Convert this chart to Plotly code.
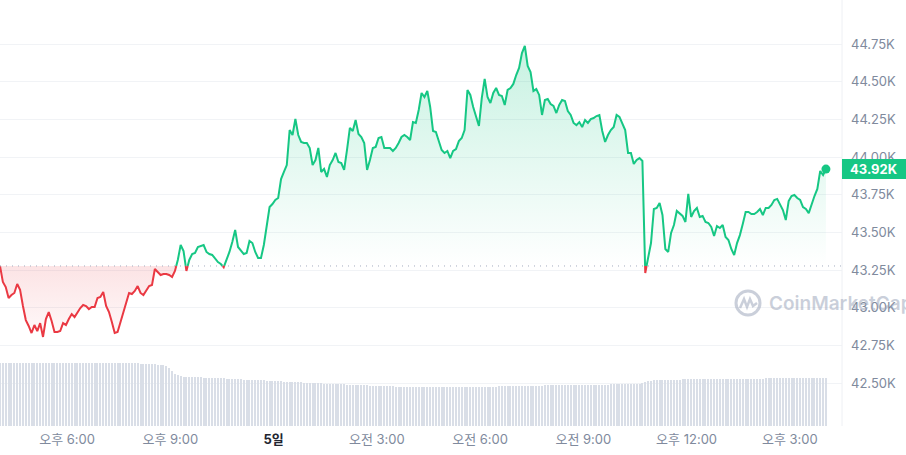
import plotly.graph_objects as go
from datetime import datetime, timedelta

# ---------------- data ----------------
start_time = datetime(2023, 12, 4, 16, 3)
step_minutes = 5

prices = [
    43277, 43171, 43137, 43064, 43084, 43098, 43157, 43118, 43011, 42918,
    42879, 42832, 42885, 42845, 42898, 42806, 42925, 42971, 42912, 42839,
    42839, 42845, 42898, 42885, 42925, 42958, 42938, 42971, 42998, 43018,
    43011, 42991, 43005, 43005, 43064, 43071, 43104, 43011, 42971, 42905,
    42832, 42839, 42905, 42965, 43031, 43098, 43091, 43111, 43144, 43098,
    43084, 43111, 43144, 43151, 43257, 43237, 43217, 43224, 43224, 43217,
    43204, 43244, 43317, 43416, 43376, 43244, 43317, 43356, 43363, 43403,
    43410, 43416, 43370, 43356, 43350, 43323, 43303, 43290, 43268, 43317,
    43370, 43436, 43516, 43403, 43376, 43356, 43363, 43443, 43429, 43370,
    43330, 43330, 43416, 43555, 43668, 43688, 43715, 43728, 43854, 43901,
    43947, 44179, 44146, 44252, 44146, 44100, 44093, 44093, 44060, 43947,
    43980, 44060, 43901, 43921, 43868, 43947, 43980, 44027, 43967, 43960,
    43914, 44047, 44193, 44173, 44246, 44153, 44133, 44093, 43914, 43980,
    44060, 44067, 44126, 44133, 44060, 44060, 44060, 44040, 44060, 44093,
    44133, 44146, 44133, 44113, 44232, 44226, 44312, 44425, 44398, 44438,
    44332, 44173, 44166, 44106, 44047, 44027, 44040, 43993, 44040, 44053,
    44106, 44126, 44179, 44445, 44412, 44332, 44266, 44206, 44392, 44518,
    44398, 44358, 44425, 44458, 44412, 44405, 44345, 44445, 44458, 44485,
    44544, 44591, 44690, 44737, 44604, 44564, 44438, 44451, 44412, 44279,
    44378, 44385, 44352, 44339, 44292, 44345, 44378, 44372, 44305, 44279,
    44226, 44212, 44232, 44199, 44246, 44226, 44252, 44259, 44272, 44279,
    44173, 44100, 44146, 44179, 44199, 44279, 44266, 44219, 44179, 44027,
    44027, 43954, 43980, 43993, 43974, 43230, 43337, 43429, 43655, 43662,
    43695, 43615, 43390, 43370, 43496, 43549, 43642, 43628, 43609, 43569,
    43755, 43602, 43642, 43662, 43602, 43609, 43569, 43562, 43536, 43476,
    43542, 43529, 43549, 43469, 43449, 43390, 43350, 43429, 43482, 43555,
    43635, 43635, 43622, 43622, 43635, 43655, 43615, 43662, 43662, 43682,
    43715, 43722, 43688, 43648, 43582, 43708, 43741, 43748, 43728, 43715,
    43668, 43655, 43628, 43688, 43741, 43788, 43907, 43881, 43920,
]

volumes_b = [
    25.3, 25.3, 25.2, 25.3, 25.2, 25.2, 25.3, 25.3, 25.2, 25.2,
    25.3, 25.2, 25.2, 25.3, 25.3, 25.2, 25.2, 25.2, 25.3, 25.2,
    25.2, 25.3, 25.2, 25.2, 25.3, 25.2, 25.2, 25.3, 25.2, 25.2,
    25.2, 25.3, 25.2, 25.2, 25.2, 25.3, 25.2, 25.2, 25.1, 25.2,
    25.2, 25.1, 25.2, 25.2, 25.1, 25.1, 25.2, 25.1, 25.1, 25.0,
    25.0, 25.0, 24.9,
    24.8, 24.7, 24.6, 24.5, 24.3, 24.1,
    23.3, 22.1, 21.0, 20.4,
    20.0, 19.8, 19.7, 19.7, 19.6, 19.6, 19.5, 19.5, 19.4, 19.4,
    19.3, 19.3, 19.2, 19.2, 19.1, 19.1, 19.0, 19.0,
    18.9, 18.8, 18.8, 18.7, 18.6, 18.6, 18.5, 18.5, 18.4, 18.4,
    18.3, 18.3, 18.2, 18.2,
    18.1, 18.0, 18.0, 17.9, 17.8, 17.8, 17.7, 17.6, 17.6, 17.5,
    17.5, 17.4, 17.3, 17.3, 17.2, 17.2, 17.1, 17.1, 17.0, 17.0, 16.9,
    16.9, 16.8, 16.8, 16.7, 16.7, 16.6, 16.6, 16.5, 16.5, 16.4,
    16.4, 16.3, 16.3, 16.2, 16.2, 16.1, 16.1, 16.0, 16.0, 15.9,
    15.9, 15.9, 15.8, 15.8, 15.8, 15.7, 15.7, 15.7, 15.7, 15.6,
    15.6, 15.6, 15.6, 15.6, 15.6, 15.6, 15.6, 15.6, 15.6, 15.6,
    15.6, 15.6, 15.6, 15.6, 15.6, 15.6, 15.6, 15.6, 15.6, 15.7,
    15.7, 15.7, 15.7, 15.7, 15.8, 15.8, 15.8, 15.8, 15.9,
    15.9, 15.9, 16.0, 16.0, 16.0, 16.0, 16.1, 16.1, 16.1, 16.1,
    16.2, 16.2, 16.2, 16.2, 16.2, 16.3, 16.3, 16.3, 16.3, 16.3,
    16.4, 16.4, 16.4, 16.4, 16.4, 16.4, 16.4, 16.5,
    16.5, 16.5, 16.5, 16.5, 16.6, 16.6, 16.6, 16.6, 16.6, 16.6,
    16.7, 16.7, 16.7, 16.7, 16.7, 16.7, 16.8, 16.8, 16.8, 16.8, 16.8,
    17.3, 17.7, 18.0, 18.2, 18.3,
    18.4, 18.4, 18.5, 18.5, 18.5, 18.6, 18.6, 18.6, 18.6, 18.7,
    18.7, 18.7, 18.7, 18.7, 18.7, 18.8, 18.8, 18.8, 18.8, 18.8,
    18.8, 18.8, 18.8, 18.8, 18.9, 18.9, 18.9, 18.9, 18.9, 18.9, 18.9,
    19.0, 19.0, 19.0, 19.0, 19.0, 19.0, 19.0, 19.1, 19.1, 19.1,
    19.1, 19.1, 19.1, 19.1, 19.1, 19.1, 19.1, 19.1, 19.1, 19.2,
    19.2, 19.2, 19.2, 19.2, 19.2, 19.2, 19.2, 19.2, 19.2,
]

tick_times = [
    "2023-12-04 18:00", "2023-12-04 21:00", "2023-12-05 00:00", "2023-12-05 03:00",
    "2023-12-05 06:00", "2023-12-05 09:00", "2023-12-05 12:00", "2023-12-05 15:00",
]
tick_labels = ["오후 6:00", "오후 9:00", "<span style='color:#222531'><b>5일</b></span>",
               "오전 3:00", "오전 6:00", "오전 9:00", "오후 12:00", "오후 3:00"]
price_ticks = [42500, 42750, 43000, 43250, 43500, 43750, 44000, 44250, 44500, 44750]
price_tick_labels = ["42.50K", "42.75K", "43.00K", "43.25K", "43.50K",
                     "43.75K", "44.00K", "44.25K", "44.50K", "44.75K"]

# ---------------- styling ----------------
GREEN = "#16c784"
RED = "#ea3943"
GRAY = "#808a9d"
FONT = "Inter, 'Noto Sans CJK KR', sans-serif"
W, H = 906, 455
ML, MR, MT, MB = 0, 64, 0, 29
PW, PH = W - ML - MR, H - MT - MB

n = min(len(prices), len(volumes_b))
prices = prices[:n]
volumes_b = volumes_b[:n]
times = [start_time + timedelta(minutes=step_minutes * i) for i in range(n)]
base_price = prices[0]
x_end = start_time + timedelta(minutes=1468)

# split line into parts above / below the opening price
aug = []
for i, (t, p) in enumerate(zip(times, prices)):
    if i:
        a = prices[i - 1] - base_price
        b = p - base_price
        if a * b < 0:
            f = a / (a - b)
            aug.append((times[i - 1] + (t - times[i - 1]) * f, base_price, "x"))
    kind = "x" if p == base_price else ("up" if p > base_price else "down")
    aug.append((t, p, kind))

ax = [q[0] for q in aug]
g_line = [q[1] if q[2] != "down" else None for q in aug]
r_line = [q[1] if q[2] != "up" else None for q in aug]
g_fill = [max(q[1], base_price) for q in aug]
r_fill = [min(q[1], base_price) for q in aug]
base_line = [base_price] * len(aug)

fig = go.Figure()

# volume bars
fig.add_trace(go.Bar(
    x=times, y=volumes_b, yaxis="y2",
    width=110000, marker=dict(color="#d9dee7", line=dict(width=0)),
    hoverinfo="skip", showlegend=False,
))

# green fill
fig.add_trace(go.Scatter(x=ax, y=base_line, mode="lines", line=dict(width=0),
                         hoverinfo="skip", showlegend=False))
fig.add_trace(go.Scatter(
    x=ax, y=g_fill, mode="lines", line=dict(width=0), fill="tonexty",
    fillgradient=dict(type="vertical", start=base_price, stop=44750,
                      colorscale=[[0, "rgba(22,199,132,0.0)"], [1, "rgba(22,199,132,0.24)"]]),
    hoverinfo="skip", showlegend=False,
))
# red fill
fig.add_trace(go.Scatter(x=ax, y=base_line, mode="lines", line=dict(width=0),
                         hoverinfo="skip", showlegend=False))
fig.add_trace(go.Scatter(
    x=ax, y=r_fill, mode="lines", line=dict(width=0), fill="tonexty",
    fillgradient=dict(type="vertical", start=min(prices), stop=base_price,
                      colorscale=[[0, "rgba(234,57,67,0.03)"], [1, "rgba(234,57,67,0.14)"]]),
    hoverinfo="skip", showlegend=False,
))

# lines
fig.add_trace(go.Scatter(x=ax, y=g_line, mode="lines", connectgaps=False,
                         line=dict(color=GREEN, width=2), hoverinfo="skip", showlegend=False))
fig.add_trace(go.Scatter(x=ax, y=r_line, mode="lines", connectgaps=False,
                         line=dict(color=RED, width=2), hoverinfo="skip", showlegend=False))
# end marker
last = prices[-1]
fig.add_trace(go.Scatter(x=[times[-1]], y=[last], mode="markers",
                         marker=dict(color=GREEN if last >= base_price else RED, size=9),
                         hoverinfo="skip", showlegend=False))

shapes = []
# dotted opening-price line
shapes.append(dict(type="line", xref="paper", yref="y", x0=0, x1=1, y0=base_price, y1=base_price,
                   line=dict(color="#a3adbf", width=1, dash="1px,5px"), layer="above"))
# right border
shapes.append(dict(type="line", xref="paper", yref="paper", x0=1, x1=1, y0=0, y1=1,
                   line=dict(color="#eef0f4", width=1)))
# price tag
tag_half = 10 * 1000 / 150.7
shapes.append(dict(type="rect", xref="paper", yref="y", x0=1.0, x1=W / PW,
                   y0=last - tag_half, y1=last + tag_half,
                   fillcolor=GREEN, line=dict(width=0), layer="above"))


def px(xp):
    return (xp - ML) / PW


def py(yp):
    return (PH - (yp - MT)) / PH


WM = "rgba(150,160,182,0.5)"
cx, cy, r = 748, 303, 12
shapes.append(dict(type="circle", xref="paper", yref="paper",
                   x0=px(cx - r), x1=px(cx + r), y0=py(cy + r), y1=py(cy - r),
                   line=dict(color=WM, width=3), layer="above"))
pts = [(-8, 5), (-4, -4), (-1, 4), (2, -4), (5, 3), (9, 0)]
path = "M " + " L ".join(f"{px(cx + dx):.5f},{py(cy + dy):.5f}" for dx, dy in pts)
shapes.append(dict(type="path", xref="paper", yref="paper", path=path,
                   line=dict(color=WM, width=2.5), layer="above"))

annotations = [
    dict(xref="paper", yref="y", x=(1.0 + W / PW) / 2, y=last, xanchor="center", yanchor="middle",
         text=f"<b>{last / 1000:.2f}K</b>", showarrow=False,
         font=dict(family=FONT, size=13, color="white")),
    dict(xref="paper", yref="paper", x=px(767), y=py(cy), xanchor="left", yanchor="middle",
         text="CoinMarketCap", showarrow=False,
         font=dict(family=FONT, size=19, color=WM, weight=600)),
]

fig.update_layout(
    width=W, height=H,
    margin=dict(l=ML, r=MR, t=MT, b=MB, pad=0),
    paper_bgcolor="white", plot_bgcolor="white",
    font=dict(family=FONT, size=13, color=GRAY),
    showlegend=False,
    bargap=0,
    xaxis=dict(
        type="date", range=[start_time, x_end],
        tickvals=tick_times, ticktext=tick_labels,
        showgrid=False, zeroline=False, showline=False, ticks="",
        tickfont=dict(family=FONT, size=13, color=GRAY),
        ticklabelstandoff=4, fixedrange=True,
    ),
    yaxis=dict(
        side="right", range=[42215, 45042],
        tickvals=price_ticks, ticktext=price_tick_labels,
        showgrid=True, gridcolor="#f1f3f6", gridwidth=1,
        zeroline=False, showline=False, ticks="",
        tickfont=dict(family=FONT, size=13, color=GRAY),
        ticklabelstandoff=8, fixedrange=True,
    ),
    yaxis2=dict(overlaying="y", range=[0, 170.4], visible=False, fixedrange=True),
    shapes=shapes,
    annotations=annotations,
)

fig.write_html(
    "out.html",
    config={"displayModeBar": False},
    post_script="document.body.style.margin='0';document.body.style.overflow='hidden';",
)
